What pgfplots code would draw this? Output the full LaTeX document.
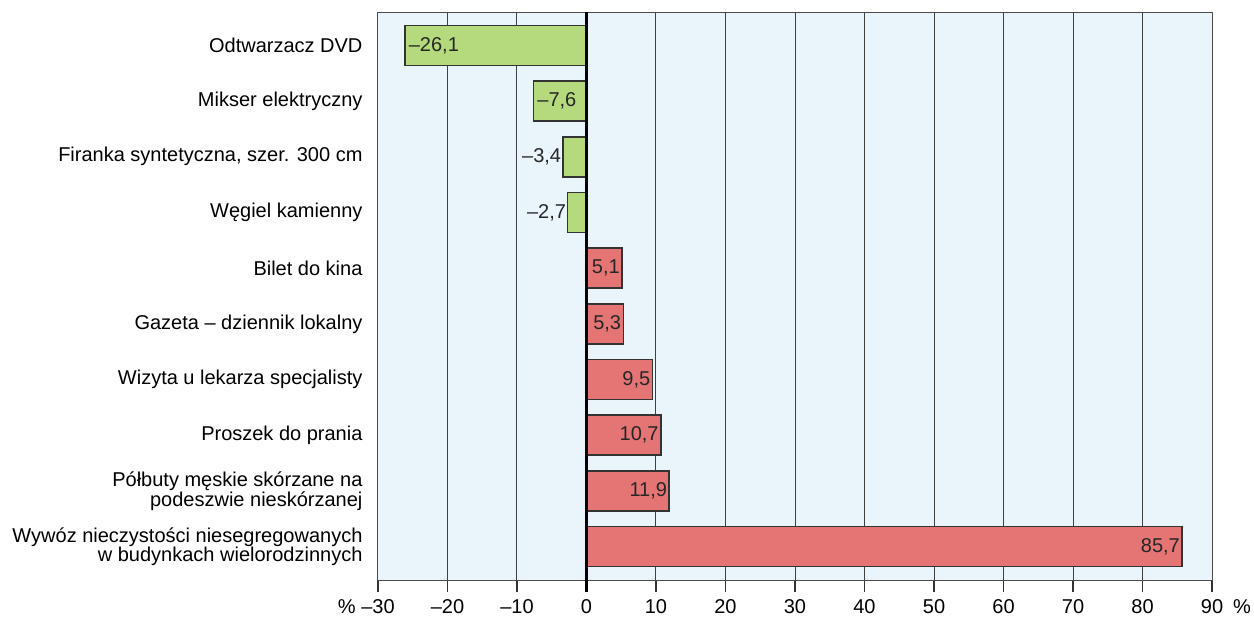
\documentclass[border=0pt]{standalone}
\usepackage{pgfplots}
\pgfplotsset{compat=1.18}
\usepackage{fontspec}
\setmainfont{Liberation Sans}
\definecolor{bgblue}{RGB}{234,244,251}
\definecolor{barg}{RGB}{181,218,126}
\definecolor{barr}{RGB}{229,117,117}
\definecolor{edge}{RGB}{51,51,51}
\begin{document}
\begin{tikzpicture}
\begin{axis}[
    name=ax,
    xbar,
    bar shift=0pt,
    bar width=40pt,
    scale only axis,
    width=834pt, height=568pt,
    xmin=-30, xmax=90,
    ymin=-0.6, ymax=9.6,
    y dir=reverse,
    clip=false,
    axis background/.style={fill=bgblue},
    axis line style={black!70, line width=1pt},
    xtick={-30,-20,...,90},
    xticklabels={\llap{\%\ }–30,–20,–10,0,10,20,30,40,50,60,70,80,90\rlap{\hspace{10pt}\%}},
    xtick pos=bottom,
    tick align=outside,
    major tick length=12pt,
    x tick style={black!80, line width=1.3pt},
    xmajorgrids,
    major grid style={black!75, line width=1pt},
    ytick={0,...,9},
    y tick style={draw=none},
    yticklabels={
      Odtwarzacz DVD,
      Mikser elektryczny,
      {Firanka syntetyczna, szer. 300 cm},
      Węgiel kamienny,
      Bilet do kina,
      Gazeta – dziennik lokalny,
      Wizyta u lekarza specjalisty,
      Proszek do prania,
      {Półbuty męskie skórzane na\\podeszwie nieskórzanej},
      {Wywóz nieczystości niesegregowanych\\w budynkach wielorodzinnych}},
    ticklabel style={font=\fontsize{20}{18}\selectfont},
    yticklabel style={align=right, xshift=0pt},
    xticklabel style={yshift=-4pt},
    point meta=explicit symbolic,
    nodes near coords,
    every node near coord/.append style={font=\fontsize{20}{18}\selectfont, text=black!85, inner sep=3pt},
    ]
\addplot[draw=edge, line width=1.5pt, fill=barg,
    every node near coord/.append style={anchor=west, xshift=0pt}]
    coordinates {(-26.1,0) [–26,1] (-7.6,1) [–7,6]};
\addplot[draw=edge, line width=1.5pt, fill=barg,
    every node near coord/.append style={anchor=east, xshift=2pt}]
    coordinates {(-3.4,2) [–3,4] (-2.7,3) [–2,7]};
\addplot[draw=edge, line width=1.5pt, fill=barr,
    every node near coord/.append style={anchor=east, xshift=1.5pt}]
    coordinates {(5.1,4) [5,1] (5.3,5) [5,3] (9.5,6) [9,5] (10.7,7) [10,7] (11.9,8) [11,9] (85.7,9) [85,7]};
\draw[black, line width=2.5pt] (axis cs:0,-0.6) -- ([yshift=-12pt]axis cs:0,9.6);
\end{axis}
\pgfresetboundingbox
\path[use as bounding box] ([shift={(-378pt,-41pt)}]ax.south west) rectangle ([shift={(42pt,12pt)}]ax.north east);
\end{tikzpicture}
\end{document}
